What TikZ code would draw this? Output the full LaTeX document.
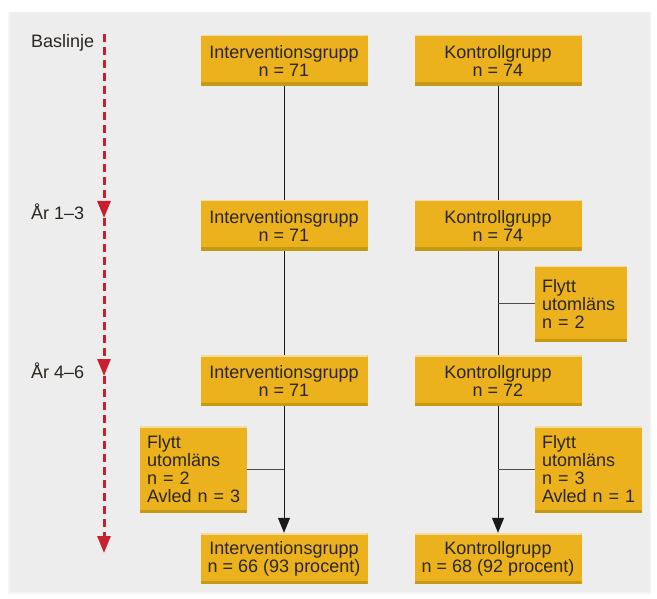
\documentclass[tikz,border=0pt]{standalone}
\usepackage{fontspec}
\setmainfont{Liberation Sans}
\usepackage{xcolor}
\usetikzlibrary{arrows.meta}
\usetikzlibrary{positioning}

\definecolor{panelgray}{HTML}{EDEDED}
\definecolor{boxgold}{HTML}{ECB21E}
\definecolor{boxshade}{HTML}{C39A12}
\definecolor{boxlight}{HTML}{F3DCA2}
\definecolor{timered}{HTML}{C8202F}
\definecolor{textdark}{HTML}{2A2620}

\tikzset{
  group/.style={fill=boxgold, text=textdark, inner sep=0pt, align=center,
    font=\fontsize{18}{18}\selectfont,
    path picture={
      \fill[boxshade] (path picture bounding box.south west) rectangle ([yshift=3.5pt]path picture bounding box.south east);
      \fill[boxlight] (path picture bounding box.north west) rectangle ([yshift=-1.5pt]path picture bounding box.north east);
    }},
  mainbox/.style={group, minimum width=167pt, minimum height=51pt},
  sidebox/.style={group, align=left, text width=#1, inner xsep=7pt, inner ysep=0pt},
  stage/.style={anchor=west, text=textdark, font=\fontsize{18}{18}\selectfont, inner sep=0pt},
  flow/.style={draw=black!90, line width=1pt},
  timeline/.style={draw=timered, line width=3pt, dash pattern=on 8pt off 5pt,
    -{Triangle[width=13pt,length=17pt]}},
}

\begin{document}
\begin{tikzpicture}[x=1pt, y=-1pt, line cap=butt, line join=round, >=stealth]
  %--- panel
    \useasboundingbox (0,0) rectangle (657,599);
    \fill[white] (0,0) rectangle (657,599);
    \fill[black!4] (8,12) rectangle (651,594);
    \fill[panelgray] (10,12) rectangle (650,592);

  %--- time axis
    \coordinate (t0) at (104,34);
    \coordinate (t1) at (104,218);
    \coordinate (t2) at (104,376);
    \coordinate (t3) at (104,553);
    \draw[timeline] (t0) -- (t1);
    \draw[timeline] (t1) -- (t2);
    \draw[timeline] (t2) -- (t3);
    \node[stage] (baslinje) at (31,43) {Baslinje};
    \node[stage] (ar13) at (31,212) {År 1–3};
    \node[stage] (ar46) at (31,371) {År 4–6};

  %--- Baslinje
    \node[mainbox] (int1) at (284,60.5) {Interventionsgrupp\\n = 71};
    \node[mainbox] (kon1) at (498,60.5) {Kontrollgrupp\\n = 74};
  %--- År 1-3
    \node[mainbox] (int2) at (284,225.5) {Interventionsgrupp\\n = 71};
    \node[mainbox] (kon2) at (498,225.5) {Kontrollgrupp\\n = 74};
  %--- År 4-6
    \node[mainbox] (int3) at (284,380.5) {Interventionsgrupp\\n = 71};
    \node[mainbox] (kon3) at (498,380.5) {Kontrollgrupp\\n = 72};
  %--- slut
    \node[mainbox] (int4) at (284,558.5) {Interventionsgrupp\\n = 66 (93 procent)};
    \node[mainbox] (kon4) at (498,558.5) {Kontrollgrupp\\n = 68 (92 procent)};

  %--- bortfall
    \node[sidebox=78pt, minimum height=76pt] (flytt1) at (581,304) {Flytt\\utomläns\\n~=~2};
    \node[sidebox=93pt, minimum height=87pt] (flytt2) at (193.5,469.5) {Flytt\\utomläns\\n~=~2\\Avled~n~=~3};
    \node[sidebox=93pt, minimum height=87pt] (flytt3) at (588.5,469.5) {Flytt\\utomläns\\n~=~3\\Avled~n~=~1};

  %--- flow
    \draw[flow] (int1.south) -- (int2.north);
    \draw[flow] (int2.south) -- (int3.north);
    \draw[flow, -{Triangle[width=12pt,length=15pt]}] (int3.south) -- (int4.north);
    \draw[flow] (kon1.south) -- (kon2.north);
    \draw[flow] (kon2.south) -- (kon3.north);
    \draw[flow, -{Triangle[width=12pt,length=15pt]}] (kon3.south) -- (kon4.north);
  %--- side lines
    \draw[flow, draw=black!70] (flytt1.west) -- (flytt1.west -| kon2.south);
    \draw[flow, draw=black!70] (flytt2.east) -- (flytt2.east -| int3.south);
    \draw[flow, draw=black!70] (flytt3.west) -- (flytt3.west -| kon3.south);
\end{tikzpicture}
\end{document}
